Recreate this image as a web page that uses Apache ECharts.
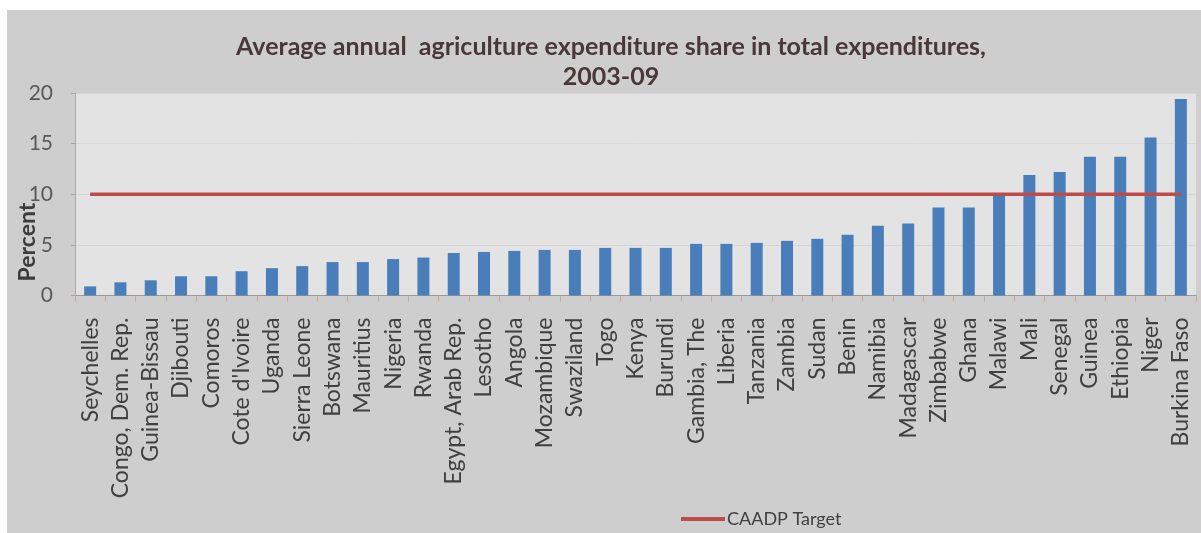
<!DOCTYPE html>
<html>
<head>
<meta charset="utf-8">
<script src="https://cdn.jsdelivr.net/npm/echarts@6/dist/echarts.min.js"></script>
<style>
html,body{margin:0;padding:0;background:#fff;}
#c{width:1201px;height:533px;}
</style>
</head>
<body>
<div id="c"></div>
<script>
const categories = ["Seychelles","Congo, Dem. Rep.","Guinea-Bissau","Djibouti","Comoros","Cote d'Ivoire","Uganda","Sierra Leone","Botswana","Mauritius","Nigeria","Rwanda","Egypt, Arab Rep.","Lesotho","Angola","Mozambique","Swaziland","Togo","Kenya","Burundi","Gambia, The","Liberia","Tanzania","Zambia","Sudan","Benin","Namibia","Madagascar","Zimbabwe","Ghana","Malawi","Mali","Senegal","Guinea","Ethiopia","Niger","Burkina Faso"];
const shareValues = [0.9,1.3,1.5,1.9,1.9,2.4,2.7,2.9,3.3,3.3,3.6,3.75,4.2,4.3,4.4,4.5,4.5,4.7,4.7,4.7,5.1,5.1,5.2,5.4,5.6,6.0,6.9,7.1,8.7,8.7,9.9,11.9,12.2,13.7,13.7,15.6,19.4];
const targetValues = categories.map(() => 10);
const yTicks = [0, 5, 10, 15, 20];
const titleLines = ["Average annual  agriculture expenditure share in total expenditures,", "2003-09"];

const chart = echarts.init(document.getElementById('c'));
chart.setOption({
  backgroundColor: '#ffffff',
  animation: false,
  textStyle: { fontFamily: 'Lato' },
  graphic: [
    { type: 'rect', z: -10, shape: { x: 7, y: 10, width: 1194, height: 523 }, style: { fill: '#cecece' } },
    { type: 'text', x: 28, y: 242, rotation: Math.PI / 2, style: { text: 'Percent', font: 'bold 23px Lato', fill: '#3c3c3c', align: 'center', verticalAlign: 'middle' } }
  ],
  title: {
    text: titleLines.join('\n'),
    left: 606,
    textAlign: 'center',
    top: 27,
    textStyle: { fontFamily: 'Lato', fontWeight: 'bold', fontSize: 25, color: '#4a3838', lineHeight: 30 }
  },
  legend: {
    data: ['CAADP Target'],
    left: 676,
    top: 505,
    itemWidth: 44,
    itemHeight: 4,
    itemGap: 10,
    icon: 'rect',
    textStyle: { fontFamily: 'Lato', fontSize: 18, color: '#404040', padding: [0, 0, 0, -3] }
  },
  grid: {
    left: 75, right: 5, top: 93, bottom: 237.5,
    show: true, backgroundColor: '#e3e3e3', borderWidth: 0
  },
  xAxis: {
    type: 'category',
    data: categories,
    axisLine: { show: true, lineStyle: { color: '#9a9a9a', width: 1 } },
    axisTick: { show: true, alignWithLabel: false, length: 6, lineStyle: { color: '#c4a898' } },
    axisLabel: { rotate: 90, interval: 0, margin: 22, fontSize: 23, color: '#404040', fontFamily: 'Lato' }
  },
  yAxis: {
    type: 'value',
    min: yTicks[0], max: yTicks[yTicks.length - 1], interval: 5,
    axisLine: { show: true, lineStyle: { color: '#a8a8a8', width: 1 } },
    axisTick: { show: true, length: 4, lineStyle: { color: '#a8a8a8' } },
    axisLabel: { margin: 22, fontSize: 21, color: '#595959', fontFamily: 'Lato' },
    splitLine: { show: true, lineStyle: { color: '#d6d6d6', width: 1 } }
  },
  series: [
    { name: 'Share', type: 'bar', data: shareValues, barWidth: 12, itemStyle: { color: '#4a7ebb' } },
    { name: 'CAADP Target', type: 'line', data: targetValues, symbol: 'none', lineStyle: { color: '#be4b48', width: 3.5 }, itemStyle: { color: '#be4b48' }, z: 5 }
  ]
});
</script>
</body>
</html>
